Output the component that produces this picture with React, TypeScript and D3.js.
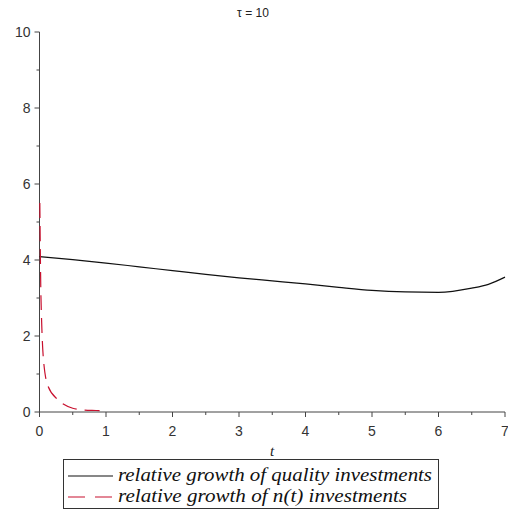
import React from "react";
import * as d3 from "d3";

// Relative growth of quality investments over time
const qualityT = [0, 0.5, 1, 1.5, 2, 2.5, 3, 3.5, 4, 4.5, 5, 5.5, 6, 6.5, 6.75, 7];
const qualityV = [4.09, 4.01, 3.92, 3.82, 3.72, 3.62, 3.53, 3.45, 3.37, 3.28, 3.2, 3.16, 3.15, 3.26, 3.36, 3.55];

// Relative growth of n(t) investments
const nT = [0.005, 0.02, 0.03, 0.06, 0.13, 0.28, 0.5, 0.68, 0.85, 1];
const nV = [5.5, 3.2, 2.5, 1.37, 0.67, 0.32, 0.1, 0.05, 0.04, 0.03];

const xTicks = [0, 1, 2, 3, 4, 5, 6, 7];
const yTicks = [0, 2, 4, 6, 8, 10];
const title = "τ = 10";
const xLabel = "t";
const legendLabels = [
  "relative growth of quality investments",
  "relative growth of n(t) investments",
];

const W = 508;
const H = 511;

export default function App() {
  const x = d3.scaleLinear().domain([0, 7]).range([39.5, 505]);
  const y = d3.scaleLinear().domain([0, 10]).range([412, 32]);

  const line = d3
    .line<[number, number]>()
    .x((d) => x(d[0]))
    .y((d) => y(d[1]))
    .curve(d3.curveMonotoneX);

  const qualityPath = line(qualityT.map((t, i) => [t, qualityV[i]]) as [number, number][]) || "";
  const nPath = line(nT.map((t, i) => [t, nV[i]]) as [number, number][]) || "";

  const xMinor = d3.range(0.5, 7, 1);
  const yMinor = d3.range(1, 10, 2);
  const axisColor = "#444";
  const tickFont = "'Liberation Sans', Arial, sans-serif";
  const serif = "'Liberation Serif', 'Times New Roman', serif";

  return (
    <svg
      width={W}
      height={H}
      style={{ position: "absolute", left: 0, top: 0, background: "#fff" }}
    >
      <rect x={0} y={0} width={W} height={H} fill="#fff" />
      {/* title */}
      <text x={253} y={17} textAnchor="middle" fontFamily={tickFont} fontSize={12} fill="#222">
        {title}
      </text>

      {/* axes */}
      <line x1={x(0)} x2={x(0)} y1={y(0)} y2={y(10)} stroke={axisColor} strokeWidth={1} />
      <line x1={x(0)} x2={x(7)} y1={y(0)} y2={y(0)} stroke={axisColor} strokeWidth={1} />

      {yTicks.map((v) => (
        <g key={"y" + v}>
          <line x1={x(0) - 5} x2={x(0)} y1={y(v)} y2={y(v)} stroke={axisColor} />
          <text
            x={x(0) - 9}
            y={y(v) + 5}
            textAnchor="end"
            fontFamily={tickFont}
            fontSize={14}
            fill="#333"
          >
            {v}
          </text>
        </g>
      ))}
      {yMinor.map((v) => (
        <line key={"ym" + v} x1={x(0) - 3} x2={x(0)} y1={y(v)} y2={y(v)} stroke={axisColor} />
      ))}

      {xTicks.map((v) => (
        <g key={"x" + v}>
          <line x1={x(v)} x2={x(v)} y1={y(0)} y2={y(0) + 5} stroke={axisColor} />
          <text
            x={x(v)}
            y={y(0) + 24}
            textAnchor="middle"
            fontFamily={tickFont}
            fontSize={14}
            fill="#333"
          >
            {v}
          </text>
        </g>
      ))}
      {xMinor.map((v) => (
        <line key={"xm" + v} x1={x(v)} x2={x(v)} y1={y(0)} y2={y(0) + 3} stroke={axisColor} />
      ))}

      <text
        x={272}
        y={456}
        textAnchor="middle"
        fontFamily={serif}
        fontStyle="italic"
        fontSize={15}
        fill="#222"
      >
        {xLabel}
      </text>

      {/* curves */}
      <path d={qualityPath} fill="none" stroke="#111" strokeWidth={1.2} />
      <path d={nPath} fill="none" stroke="#c8102e" strokeWidth={1.2} strokeDasharray="15,8" />

      {/* legend */}
      <rect x={63.5} y={459.5} width={375} height={49} fill="#fff" stroke="#333" strokeWidth={1} />
      <line x1={68} x2={113} y1={476} y2={476} stroke="#111" strokeWidth={1.2} />
      <line x1={68} x2={113} y1={497} y2={497} stroke="#c8102e" strokeWidth={1.2} strokeDasharray="17,10" />
      <text
        x={118}
        y={481}
        fontFamily={serif}
        fontStyle="italic"
        fontSize={18}
        fill="#111"
        textLength={314}
        lengthAdjust="spacingAndGlyphs"
      >
        {legendLabels[0]}
      </text>
      <text
        x={118}
        y={502}
        fontFamily={serif}
        fontStyle="italic"
        fontSize={18}
        fill="#111"
        textLength={289}
        lengthAdjust="spacingAndGlyphs"
      >
        {legendLabels[1]}
      </text>
    </svg>
  );
}
